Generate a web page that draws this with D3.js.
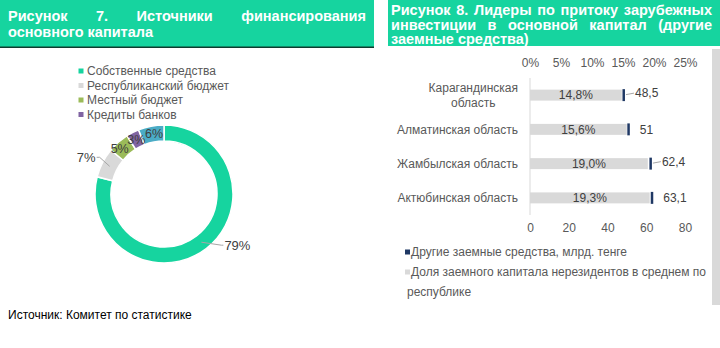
<!DOCTYPE html>
<html>
<head>
<meta charset="utf-8">
<script src="https://cdn.jsdelivr.net/npm/d3@7/dist/d3.min.js"></script>
<style>
  html, body { margin: 0; padding: 0; background: #fff; }
  svg { display: block; font-family: "Liberation Sans", Arial, sans-serif; }
</style>
</head>
<body>
<svg id="chart" width="720" height="348"></svg>
<script>
// ---- Figure 7: sources of fixed capital financing ----
const pieCategories = ["Собственные средства", "Республиканский бюджет", "Местный бюджет", "Кредиты банков", "Прочие"];
const pieValues = [79, 7, 5, 3, 6];
const pieLegendCount = 4;

// ---- Figure 8: leading regions by foreign investment inflow ----
const regions = ["Карагандинская область", "Алматинская область", "Жамбылская область", "Актюбинская область"];
const shareValues = [14.8, 15.6, 19.0, 19.3];      // % of non-resident borrowed capital
const loanValues = [48.5, 51, 62.4, 63.1];         // other borrowed funds, bn tenge
const pctTicks = [0, 5, 10, 15, 20, 25];
const loanTicks = [0, 20, 40, 60, 80];
const barLegend = ["Другие заемные средства, млрд. тенге", "Доля заемного капитала нерезидентов в среднем по республике"];

const title7 = ["Рисунок 7. Источники финансирования", "основного капитала"];
const title8 = ["Рисунок 8. Лидеры по притоку зарубежных", "инвестиции в основной капитал (другие", "заемные средства)"];
const sourceNote = "Источник: Комитет по статистике";

const GREEN = "#16D49F";
const pieColors = [GREEN, "#D9D9D9", "#9BBB59", "#8064A2", "#4BACC6"];
const NAVY = "#1F3864";
const BAR_GRAY = "#D9D9D9";
const TEXT = "#595959";
const DARK_TEXT = "#404040";

const loc = d3.formatLocale({ decimal: ",", thousands: " ", grouping: [3], currency: ["", ""] });
const fmtShare = v => loc.format(".1f")(v) + "%";
const fmtLoan = loc.format(".1~f");

const svg = d3.select("#chart");
svg.append("rect").attr("width", 720).attr("height", 348).attr("fill", "#fff");

// Lays words of one line across [xa, xb] with equal gaps
function justified(g, line, xa, xb, yy, attrs) {
  const words = line.split(" ");
  const nodes = words.map(w => {
    const t = g.append("text").attr("y", yy).text(w);
    Object.entries(attrs).forEach(([k, v]) => t.attr(k, v));
    return t;
  });
  const widths = nodes.map(n => n.node().getComputedTextLength());
  const total = d3.sum(widths);
  const gap = words.length > 1 ? (xb - xa - total) / (words.length - 1) : 0;
  let x = xa;
  nodes.forEach((n, i) => { n.attr("x", x); x += widths[i] + gap; });
}

const TITLE_SIZE = "14.5px";
const titleAttrs = { fill: "#fff", "font-weight": "bold", "font-size": TITLE_SIZE };

// Header bars
svg.append("rect").attr("x", 0).attr("y", 0).attr("width", 374).attr("height", 47).attr("fill", GREEN);
svg.append("rect").attr("x", 0).attr("y", 46.5).attr("width", 374).attr("height", 1.5).attr("fill", "#0E3B2E");
svg.append("rect").attr("x", 388).attr("y", 0).attr("width", 332).attr("height", 46).attr("fill", GREEN);

const t7 = svg.append("g");
justified(t7, title7[0], 8, 366, 20.5, titleAttrs);
t7.append("text").attr("x", 8).attr("y", 37).text(title7[1])
  .attr("fill", "#fff").attr("font-weight", "bold").attr("font-size", TITLE_SIZE);

const t8 = svg.append("g");
justified(t8, title8[0], 391, 712, 15, titleAttrs);
justified(t8, title8[1], 391, 712, 29.5, titleAttrs);
t8.append("text").attr("x", 391).attr("y", 44).text(title8[2])
  .attr("fill", "#fff").attr("font-weight", "bold").attr("font-size", TITLE_SIZE);

// Side strip on the right edge
svg.append("rect").attr("x", 712).attr("y", 49).attr("width", 8).attr("height", 256).attr("fill", "#D9D9D9");

// ---- Donut ----
const cx = 164, cy = 194, rOut = 69, rIn = 53;
const pie = d3.pie().sort(null).value(d => d).startAngle(0).endAngle(2 * Math.PI);
const arcs = pie(pieValues);
const arc = d3.arc().innerRadius(rIn).outerRadius(rOut);
const pieG = svg.append("g").attr("transform", `translate(${cx},${cy})`);
pieG.selectAll("path").data(arcs).join("path")
  .attr("d", arc)
  .attr("fill", (d, i) => pieColors[i])
  .attr("stroke", "#fff").attr("stroke-width", 1.5);

const midArc = d3.arc().innerRadius((rIn + rOut) / 2).outerRadius((rIn + rOut) / 2);
const pctLabel = d => d.data + "%";
// small horizontal nudges so the crowded inner labels sit apart
const innerNudge = { 2: -4, 3: 0, 4: 1.5 };
arcs.forEach((d, i) => {
  const [mx, my] = midArc.centroid(d);
  if (d.data >= 7) {
    // outside label with a leader line
    const a = (d.startAngle + d.endAngle) / 2;
    const right = Math.sin(a) > 0;
    const ex = right ? mx + 20 : mx - 10;
    const ey = right ? my + 3 : my - 9;
    const hx = right ? ex + 2 : ex - 3;
    pieG.append("polyline")
      .attr("points", `${mx},${my} ${ex},${ey} ${hx},${ey}`)
      .attr("fill", "none").attr("stroke", "#A6A6A6").attr("stroke-width", 1);
    pieG.append("text")
      .attr("x", right ? hx + 1 : hx - 1).attr("y", ey).attr("dy", "0.35em")
      .attr("text-anchor", right ? "start" : "end")
      .attr("font-size", "13px").attr("fill", DARK_TEXT)
      .text(pctLabel(d));
  } else {
    pieG.append("text")
      .attr("x", mx + (innerNudge[i] || 0)).attr("y", my).attr("dy", "0.35em")
      .attr("text-anchor", "middle")
      .attr("font-size", "12.5px").attr("fill", DARK_TEXT)
      .text(pctLabel(d));
  }
});

// Donut legend
const pieLeg = svg.append("g");
pieCategories.slice(0, pieLegendCount).forEach((name, i) => {
  const ly = 71 + i * 14.5;
  pieLeg.append("rect").attr("x", 78.5).attr("y", ly - 2.5).attr("width", 5).attr("height", 5).attr("fill", pieColors[i]);
  pieLeg.append("text").attr("x", 87).attr("y", ly).attr("dy", "0.35em")
    .attr("font-size", "12px").attr("fill", TEXT).text(name);
});

svg.append("text").attr("x", 8).attr("y", 315).attr("dy", "0.35em")
  .attr("font-size", "12px").attr("fill", "#000").text(sourceNote);

// ---- Bar chart ----
const xStart = 530, plotW = 155, plotTop = 78, plotBottom = 215;
const xPct = d3.scaleLinear().domain([0, 25]).range([xStart, xStart + plotW]);
const xLoan = d3.scaleLinear().domain([0, 80]).range([xStart, xStart + plotW]);
const yBand = d3.scaleBand().domain(regions).range([plotTop, plotBottom]).paddingInner(0.68).paddingOuter(0.34);

const barG = svg.append("g");
const axisFont = "'Liberation Sans', Arial, sans-serif";

// top axis (share, %)
const topAxis = d3.axisTop(xPct).tickValues(pctTicks).tickSize(0).tickFormat(d => d + "%");
barG.append("g").attr("transform", `translate(0,${plotTop - 8})`).call(topAxis)
  .call(g => g.select(".domain").remove())
  .call(g => g.selectAll("text").attr("font-size", "12px").attr("fill", TEXT).attr("font-family", axisFont));

// bottom axis (bn tenge)
const bottomAxis = d3.axisBottom(xLoan).tickValues(loanTicks).tickSize(0).tickFormat(d => d);
barG.append("g").attr("transform", `translate(0,${plotBottom + 5})`).call(bottomAxis)
  .call(g => g.select(".domain").remove())
  .call(g => g.selectAll("text").attr("font-size", "12px").attr("fill", TEXT).attr("font-family", axisFont));

// category axis line
barG.append("line").attr("x1", xStart).attr("x2", xStart).attr("y1", plotTop).attr("y2", plotBottom)
  .attr("stroke", "#D9D9D9").attr("stroke-width", 1);

// share bars
barG.selectAll("rect.share").data(regions).join("rect").attr("class", "share")
  .attr("x", xStart).attr("y", d => yBand(d))
  .attr("width", (d, i) => xPct(shareValues[i]) - xStart)
  .attr("height", yBand.bandwidth())
  .attr("fill", BAR_GRAY);

barG.selectAll("text.share").data(regions).join("text").attr("class", "share")
  .attr("x", (d, i) => (xStart + xPct(shareValues[i])) / 2)
  .attr("y", d => yBand(d) + yBand.bandwidth() / 2).attr("dy", "0.35em")
  .attr("text-anchor", "middle").attr("font-size", "12px").attr("fill", DARK_TEXT)
  .text((d, i) => fmtShare(shareValues[i]));

// loan markers
barG.selectAll("rect.loan").data(regions).join("rect").attr("class", "loan")
  .attr("x", (d, i) => xLoan(loanValues[i]) - 1.5)
  .attr("y", d => yBand(d) - 0.5)
  .attr("width", 2.5)
  .attr("height", yBand.bandwidth() + 1)
  .attr("fill", NAVY);

const leaderRows = [0, 2];
regions.forEach((r, i) => {
  const mx = xLoan(loanValues[i]);
  const cyb = yBand(r) + yBand.bandwidth() / 2;
  const lift = leaderRows.includes(i) ? 2 : 0;
  if (leaderRows.includes(i)) {
    barG.append("line").attr("x1", mx + 2).attr("x2", mx + 10)
      .attr("y1", cyb - 0.5).attr("y2", cyb - lift)
      .attr("stroke", "#A6A6A6").attr("stroke-width", 1);
  }
  barG.append("text").attr("x", mx + 11).attr("y", cyb - lift).attr("dy", "0.35em")
    .attr("font-size", "12px").attr("fill", DARK_TEXT)
    .text(fmtLoan(loanValues[i]));
});

// category labels (wrapped when too wide)
regions.forEach(r => {
  const cyb = yBand(r) + yBand.bandwidth() / 2;
  const probe = barG.append("text").attr("font-size", "12px").text(r);
  const w = probe.node().getComputedTextLength();
  probe.remove();
  if (w > 126) {
    const k = r.lastIndexOf(" ");
    const lines = [r.slice(0, k), r.slice(k + 1)];
    const probe2 = barG.append("text").attr("font-size", "12px").text(lines[0]);
    const w0 = probe2.node().getComputedTextLength();
    probe2.remove();
    const t = barG.append("text").attr("font-size", "12px").attr("fill", TEXT).attr("text-anchor", "middle");
    const cxl = 518 - w0 / 2;
    lines.forEach((ln, j) => {
      t.append("tspan").attr("x", cxl).attr("y", cyb - 7 + j * 14.5).attr("dy", "0.35em").text(ln);
    });
  } else {
    barG.append("text").attr("x", 518).attr("y", cyb).attr("dy", "0.35em")
      .attr("text-anchor", "end").attr("font-size", "12px").attr("fill", TEXT).text(r);
  }
});

// bar legend
const bl = svg.append("g");
bl.append("rect").attr("x", 405).attr("y", 249.5).attr("width", 5).attr("height", 5).attr("fill", NAVY);
bl.append("text").attr("x", 411).attr("y", 252).attr("dy", "0.35em")
  .attr("font-size", "12px").attr("fill", TEXT).text(barLegend[0]);
bl.append("rect").attr("x", 405).attr("y", 269.5).attr("width", 5).attr("height", 5).attr("fill", BAR_GRAY);
const lastSp = barLegend[1].lastIndexOf(" ");
bl.append("text").attr("x", 411).attr("y", 272).attr("dy", "0.35em")
  .attr("font-size", "12px").attr("fill", TEXT).text(barLegend[1].slice(0, lastSp));
bl.append("text").attr("x", 407).attr("y", 292).attr("dy", "0.35em")
  .attr("font-size", "12px").attr("fill", TEXT).text(barLegend[1].slice(lastSp + 1));
</script>
</body>
</html>
